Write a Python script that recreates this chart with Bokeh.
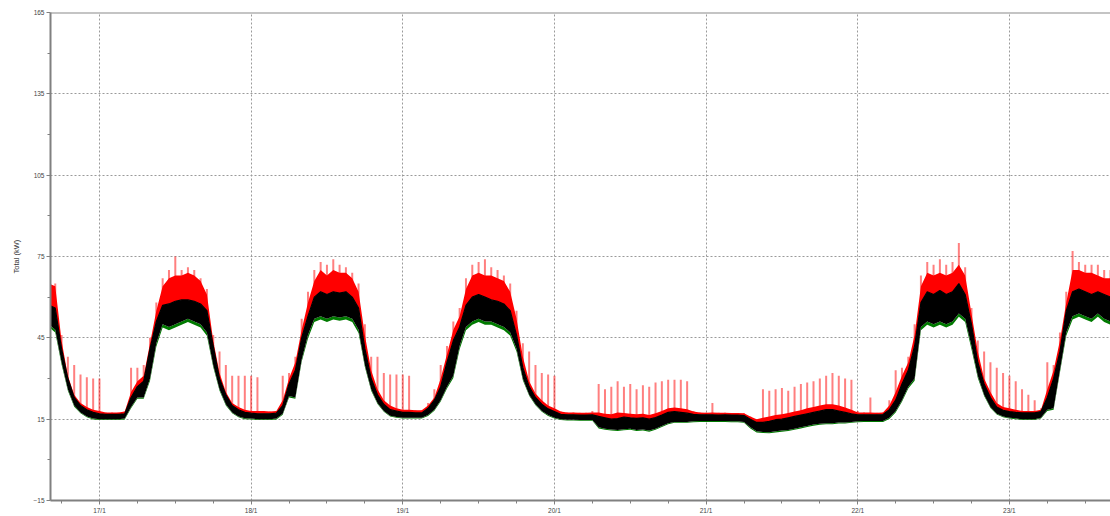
from bokeh.plotting import figure
from bokeh.models import Range1d, FixedTicker, Span, ColumnDataSource
from bokeh.embed import file_html
from bokeh.resources import INLINE

# hours since 17/1 00:00
hours = list(range(-8, 161))

black_low = [
    50, 48, 36, 26, 20, 17.5, 16, 15.2,
    15, 15, 15, 15, 15.2, 19.5, 23, 23, 30, 43, 50, 49, 50, 51, 52, 51, 50, 47, 35, 26, 20.5, 17.5, 16, 15.3,
    15.2, 15, 15, 15, 15.2, 17, 23.5, 23, 37, 46, 52, 53, 52, 53, 52.5, 53, 52, 48, 35, 26, 21, 18, 16.3, 15.8,
    15.5, 15.5, 15.5, 15.5, 16.5, 18.5, 22, 27, 31, 42, 49, 51, 52, 51, 51, 50, 49, 47, 41, 30, 24, 20.5, 18, 16.5,
    15.5, 15, 14.8, 14.8, 14.7, 14.7, 14.7, 12, 11.5, 11.2, 11, 11.3, 11.5, 11, 11.2, 10.8, 11.5, 12.5, 13.5, 14, 14, 14, 14.2, 14.3,
    14.3, 14.3, 14.3, 14.3, 14.2, 14.2, 14, 12, 10.5, 10.3, 10.2, 10.5, 10.8, 11, 11.5, 12, 12.5, 13, 13.3, 13.5, 13.5, 13.8, 13.8, 14,
    14.2, 14.3, 14.3, 14.3, 14.3, 15.5, 18, 22, 27, 30, 49, 51, 50, 51, 50, 51, 54, 52, 42, 31, 24, 19.5, 17, 16,
    15.5, 15.3, 15, 15, 15, 15.5, 18.5, 19, 33, 47, 53, 54, 53, 52, 54, 52, 51,
]
black_high = [
    57, 56, 41, 30, 23, 20, 18.5, 17.5,
    17, 16.8, 16.8, 16.8, 17, 23, 27, 29, 41, 51, 57, 57.5, 58.5, 59, 59, 58.5, 57.5, 55, 42, 30, 24, 20, 18.5, 17.5,
    17.2, 17, 17, 17, 17.2, 20, 28, 33, 45, 53, 60, 62, 61, 62, 61.5, 62, 60, 56, 41, 30, 24, 20.5, 18.5, 18,
    17.5, 17.5, 17.3, 17.3, 19, 22, 27, 36, 44, 49, 57, 60, 61, 60, 59, 58.5, 57.5, 55, 46, 34, 27, 23, 20.5, 18.8,
    17.8, 16.8, 16.6, 16.6, 16.5, 16.5, 16.6, 16, 15.5, 15, 15.2, 15.8, 15.5, 15.3, 15.5, 15, 15.6, 16.5, 17.5, 17.8, 17.5, 17.2, 16.8, 16.6,
    16.6, 16.6, 16.5, 16.6, 16.5, 16.5, 16.3, 15, 13.8, 13.8, 14.2, 14.8, 15, 15.5, 16, 16.5, 17, 17.5, 18, 18.5, 18.5, 18, 17.5, 17,
    16.6, 16.6, 16.6, 16.6, 16.7, 18.5, 22, 28, 33, 42, 58, 62, 61, 62.5, 61, 62, 65, 61, 50, 36, 28, 23, 19.5, 18.3,
    17.8, 17.5, 17.3, 17.3, 17.3, 17.8, 23, 30, 40, 55, 62, 63, 62, 61, 62, 61, 60,
]
red_top = [
    65, 64, 44, 31, 24, 21, 19.5, 18.5,
    18, 17.5, 17.5, 17.5, 17.8, 25, 29, 31, 43, 55, 64, 67, 68, 68, 69, 68, 66, 61, 44, 32, 25, 21, 19.5, 18.5,
    18, 18, 18, 17.8, 18, 22, 30, 36, 48, 58, 66, 70, 68, 70, 69, 69, 67, 62, 46, 33, 26, 22, 20, 19,
    18.5, 18.5, 18.3, 18.3, 20, 23, 30, 39, 48, 53, 63, 68, 69, 68, 68, 67, 66, 62, 52, 38, 29, 24.5, 22, 20,
    19, 17.8, 17.5, 17.5, 17.4, 17.4, 17.5, 17.5, 17, 16.8, 17.5, 17.3, 17, 16.8, 17, 16.5, 17.2, 18, 19, 19.3, 19, 18.7, 17.8, 17.5,
    17.4, 17.5, 17.4, 17.4, 17.3, 17.3, 17.2, 16, 15, 15.5, 16, 16.5, 16.8, 17.3, 17.8, 18.3, 19, 19.5, 20, 20.5, 20.5, 20, 19.3, 18.5,
    17.5, 17.5, 17.5, 17.4, 17.5, 20, 25, 31, 36, 46, 64, 69, 68, 69, 68, 69, 72, 68, 54, 40, 30, 25, 21, 19.5,
    19, 18.5, 18, 18, 18, 18.5, 26, 33, 44, 58, 70, 70, 69, 69, 68, 67, 67,
]
red_spike = [
    66, 65, 46, 38, 35, 31.5, 30.5, 30,
    30, 17.5, 17.5, 17.5, 17.8, 34, 34, 35, 45, 58, 67, 70, 75, 70, 71, 70, 67, 63, 46, 40, 35, 31, 31, 31,
    31, 30.5, 18, 17.8, 18, 31, 32, 38, 52, 62, 70, 73, 72, 74, 72, 71, 69, 65, 50, 38, 38, 32, 31.5, 31.5,
    31.5, 31, 18.3, 18.3, 21, 26, 35, 42, 51, 56, 67, 72, 73, 74, 71, 70, 68, 65, 55, 43, 40, 35, 32, 31.5,
    31, 17.8, 17.5, 17.5, 17.4, 17.4, 18, 28, 26, 27, 29, 27, 28, 26, 27.5, 27, 28.5, 29, 29.5, 29.5, 29.5, 29, 18, 17.5,
    17.4, 21, 17.4, 17.4, 17.3, 17.3, 17.2, 16, 15, 26, 25.5, 26, 26.5, 25.5, 27, 28, 28.5, 29, 30, 31, 32, 31, 30, 29.5,
    18, 17.5, 23, 17.4, 17.5, 22, 33, 34, 38, 50, 68, 73, 72, 74, 72, 73, 80, 71, 56, 44, 40, 36, 34, 32,
    31, 29, 26, 24, 22, 19, 36, 35, 47, 62, 77, 73, 72, 72, 72, 70, 70,
]
green_low = [
    49, 47, 35.2, 25.5, 19.6, 17.2, 15.7, 14.9,
    14.7, 14.7, 14.7, 14.7, 14.9, 19, 22.5, 22.5, 29.2, 41.8, 48.8, 47.8, 48.8, 49.8, 50.8, 49.8, 48.8, 45.8, 34.2, 25.5, 20, 17.2, 15.7, 15,
    14.9, 14.7, 14.7, 14.7, 14.9, 16.6, 23, 22.5, 36.2, 44.8, 50.8, 51.8, 50.8, 51.8, 51.3, 51.8, 50.8, 46.8, 34.2, 25.5, 20.6, 17.7, 16, 15.5,
    15.2, 15.2, 15.2, 15.2, 16.2, 18.1, 21.5, 26.3, 30.2, 40.8, 47.8, 49.8, 50.8, 49.8, 49.8, 48.8, 47.8, 45.8, 40, 29.4, 23.6, 20.1, 17.7, 16.2,
    15.2, 14.7, 14.5, 14.5, 14.4, 14.4, 14.4, 11.6, 11.1, 10.8, 10.6, 10.9, 11.1, 10.6, 10.8, 10.4, 11.1, 12.1, 13.1, 13.7, 13.7, 13.7, 13.9, 14,
    14, 14, 14, 14, 13.9, 13.9, 13.7, 11.6, 10.1, 9.9, 9.8, 10.1, 10.4, 10.6, 11.1, 11.6, 12.1, 12.6, 12.9, 13.1, 13.1, 13.4, 13.4, 13.7,
    13.9, 14, 14, 14, 14, 15.1, 17.5, 21.4, 26.3, 29.2, 47.8, 49.8, 48.8, 49.8, 48.8, 49.8, 52.8, 50.8, 40.8, 30.2, 23.5, 19.1, 16.7, 15.7,
    15.2, 15, 14.7, 14.7, 14.7, 15.2, 18, 18.5, 32.2, 45.8, 51.8, 52.8, 51.8, 50.8, 52.8, 50.8, 49.8,
]

day_ticks = [0, 24, 48, 72, 96, 120, 144]
day_labels = ["17/1", "18/1", "19/1", "20/1", "21/1", "22/1", "23/1"]
quarter_ticks = list(range(-6, 161, 6))
y_ticks = [-15, 15, 45, 75, 105, 135, 165]
y_minor = [0, 30, 60, 90, 120, 150]

src = ColumnDataSource(dict(h=hours, lo=black_low, hi=black_high, red=red_top,
                            spk=red_spike, grn=green_low))

p = figure(width=1110, height=516, output_backend="svg", toolbar_location=None,
           x_range=Range1d(-7.75, 160), y_range=Range1d(-15, 165),
           min_border_left=50, min_border_right=0, min_border_top=12, min_border_bottom=0,
           background_fill_color="white", border_fill_color="white")
p.outline_line_color = None

p.segment(x0="h", y0="hi", x1="h", y1="spk", source=src, line_color="#ff0000",
          line_alpha=0.5, line_width=2)
p.varea(x="h", y1="hi", y2="red", source=src, fill_color="#ff0000")
p.varea(x="h", y1="grn", y2="lo", source=src, fill_color="#007a00")
p.varea(x="h", y1="lo", y2="hi", source=src, fill_color="#000000")
p.line(x="h", y="hi", source=src, line_color="#000000", line_width=1.2)

p.add_layout(Span(location=165, dimension="width", line_color="#8a8a8a", line_width=2))

font = "Liberation Sans"
p.xaxis.ticker = FixedTicker(ticks=day_ticks, minor_ticks=quarter_ticks)
p.xaxis.major_label_overrides = {t: l for t, l in zip(day_ticks, day_labels)}
p.yaxis.ticker = FixedTicker(ticks=y_ticks, minor_ticks=y_minor)
p.yaxis.axis_label = "Total (kW)"
p.yaxis.axis_label_text_font = font
p.yaxis.axis_label_text_font_size = "7.5px"
p.yaxis.axis_label_text_font_style = "normal"
p.yaxis.axis_label_text_color = "#333333"
p.yaxis.axis_label_standoff = 9

for ax in (p.xaxis, p.yaxis):
    ax.axis_line_color = "#808080"
    ax.axis_line_width = 2
    ax.major_tick_line_color = "#808080"
    ax.minor_tick_line_color = "#808080"
    ax.major_tick_out = 4
    ax.major_tick_in = 0
    ax.minor_tick_out = 3
    ax.minor_tick_in = 0
    ax.major_label_text_font = font
    ax.major_label_text_font_size = "6.5px"
    ax.major_label_text_color = "#444444"
    ax.major_label_standoff = 2

for g in (p.xgrid, p.ygrid):
    g.grid_line_color = "#9a9a9a"
    g.grid_line_dash = "2 2"
    g.grid_line_width = 1

open("out.html", "w").write(file_html(p, INLINE))
